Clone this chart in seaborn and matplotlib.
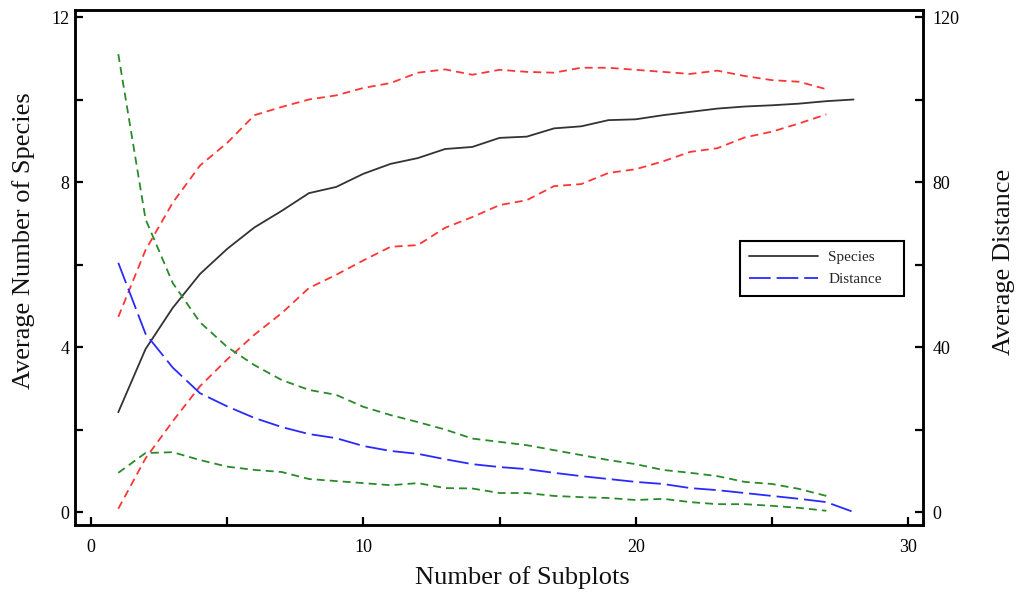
import numpy as np
import pandas as pd
import matplotlib
matplotlib.use("Agg")
import matplotlib.pyplot as plt
from matplotlib.ticker import MultipleLocator, FuncFormatter
import seaborn as sns

# Number of subplots sampled
subplots = list(range(1, 29))
subplots_ci = list(range(1, 28))

# Average number of species (left axis) with its upper / lower bounds
species = [2.42, 3.95, 4.95, 5.77, 6.38, 6.9, 7.3, 7.73, 7.88, 8.2, 8.44, 8.58,
           8.8, 8.85, 9.07, 9.1, 9.3, 9.35, 9.5, 9.52, 9.62, 9.7, 9.78, 9.83,
           9.86, 9.9, 9.96, 10.0]
species_upper = [4.73, 6.35, 7.5, 8.4, 8.95, 9.62, 9.82, 10.0, 10.1, 10.28, 10.4,
                 10.65, 10.73, 10.6, 10.72, 10.67, 10.65, 10.77, 10.77, 10.72,
                 10.67, 10.62, 10.7, 10.57, 10.47, 10.43, 10.25]
species_lower = [0.08, 1.3, 2.2, 3.05, 3.7, 4.3, 4.82, 5.43, 5.75, 6.1, 6.43, 6.47,
                 6.89, 7.15, 7.44, 7.56, 7.9, 7.95, 8.22, 8.31, 8.5, 8.73, 8.82,
                 9.08, 9.22, 9.42, 9.64]

# Average distance (right axis) with its upper / lower bounds
distance = [60.4, 43.2, 35.0, 28.8, 25.6, 22.8, 20.6, 18.9, 17.9, 16.0, 14.8, 14.1,
            12.8, 11.6, 10.9, 10.4, 9.5, 8.7, 8.0, 7.3, 6.8, 5.8, 5.3, 4.6, 3.9,
            3.2, 2.4, 0.0]
distance_upper = [111, 71, 55.5, 46, 40, 35.6, 32, 29.6, 28.4, 25.5, 23.5, 21.8,
                  20.0, 17.8, 17.0, 16.2, 15.0, 13.8, 12.6, 11.6, 10.2, 9.5, 8.7,
                  7.3, 6.8, 5.6, 3.9]
distance_lower = [9.5, 14.3, 14.5, 12.6, 11.0, 10.2, 9.7, 8.0, 7.5, 7.0, 6.5, 7.0,
                  5.8, 5.7, 4.6, 4.6, 3.9, 3.6, 3.4, 2.9, 3.2, 2.4, 1.9, 1.9, 1.5,
                  1.0, 0.3]

main = pd.DataFrame({"n": subplots, "species": species, "distance": distance})
bounds = pd.DataFrame({"n": subplots_ci,
                       "sp_hi": species_upper, "sp_lo": species_lower,
                       "d_hi": distance_upper, "d_lo": distance_lower})

sns.set_theme(style="white")
plt.rcParams["font.family"] = ["Liberation Serif", "DejaVu Serif"]

fig = plt.figure(figsize=(10.17, 5.94), dpi=100)
ax = fig.add_axes([75 / 1017, 1 - 525 / 594, 848 / 1017, 515 / 594])
ax2 = ax.twinx()

RED = "#ff3535"
GREEN = "#2a8a2a"
BLUE = "#2a2aff"
BLACK = "#333333"
short_dash = (0, (4.4, 2.8))
long_dash = (0, (12, 3.3))

sns.lineplot(data=bounds, x="n", y="sp_hi", ax=ax, color=RED, lw=1.3,
             linestyle=short_dash, errorbar=None)
sns.lineplot(data=bounds, x="n", y="sp_lo", ax=ax, color=RED, lw=1.3,
             linestyle=short_dash, errorbar=None)
h_species = sns.lineplot(data=main, x="n", y="species", ax=ax, color=BLACK,
                         lw=1.3, errorbar=None).lines[-1]

sns.lineplot(data=bounds, x="n", y="d_hi", ax=ax2, color=GREEN, lw=1.3,
             linestyle=short_dash, errorbar=None)
sns.lineplot(data=bounds, x="n", y="d_lo", ax=ax2, color=GREEN, lw=1.3,
             linestyle=short_dash, errorbar=None)
h_distance = sns.lineplot(data=main, x="n", y="distance", ax=ax2, color=BLUE,
                          lw=1.3, linestyle=long_dash, errorbar=None).lines[-1]

ax.set_xlim(-0.59, 30.55)
ax.set_ylim(-0.315, 12.17)
ax2.set_ylim(-3.15, 121.7)

# ticks: every step marked, every other one labelled
ax.xaxis.set_major_locator(MultipleLocator(5))
ax.yaxis.set_major_locator(MultipleLocator(2))
ax2.yaxis.set_major_locator(MultipleLocator(20))
ax.xaxis.set_major_formatter(FuncFormatter(lambda v, p: f"{v:.0f}" if round(v) % 10 == 0 else ""))
ax.yaxis.set_major_formatter(FuncFormatter(lambda v, p: f"{v:.0f}" if round(v) % 4 == 0 else ""))
ax2.yaxis.set_major_formatter(FuncFormatter(lambda v, p: f"{v:.0f}" if round(v) % 40 == 0 else ""))

ax.tick_params(axis="x", direction="in", length=6, width=1.6, labelsize=13,
               pad=10, bottom=True, top=False, colors="black")
ax.tick_params(axis="y", direction="in", length=6, width=1.6, labelsize=13,
               pad=4, left=True, right=False, colors="black")
ax2.tick_params(axis="y", direction="in", length=6, width=1.6, labelsize=13,
                pad=7, right=True, left=False, colors="black")

for a in (ax, ax2):
    for s in a.spines.values():
        s.set_color("black")
        s.set_linewidth(1.8)
    a.grid(False)

ax.set_xlabel("Number of Subplots", fontsize=19, color="#111111")
ax.set_ylabel("Average Number of Species", fontsize=19, color="#111111")
ax2.set_ylabel("Average Distance", fontsize=19, color="#111111")
ax.xaxis.set_label_coords(0.528, -0.08)
ax.yaxis.set_label_coords(-0.047, 0.553)
ax2.yaxis.set_label_coords(1.0825, 0.51)

leg = ax2.legend([h_species, h_distance], ["Species", "Distance"],
                 loc="center", bbox_to_anchor=(0.784, 0.443, 0.194, 0.11),
                 mode="expand", borderaxespad=0,
                 fontsize=11, frameon=True, fancybox=False, handlelength=4.5,
                 borderpad=0.6, labelspacing=0.55, handletextpad=0.7)
leg.get_frame().set_edgecolor("black")
leg.get_frame().set_linewidth(1.5)
leg.get_frame().set_alpha(1)

fig.savefig("out.png", dpi=100)
